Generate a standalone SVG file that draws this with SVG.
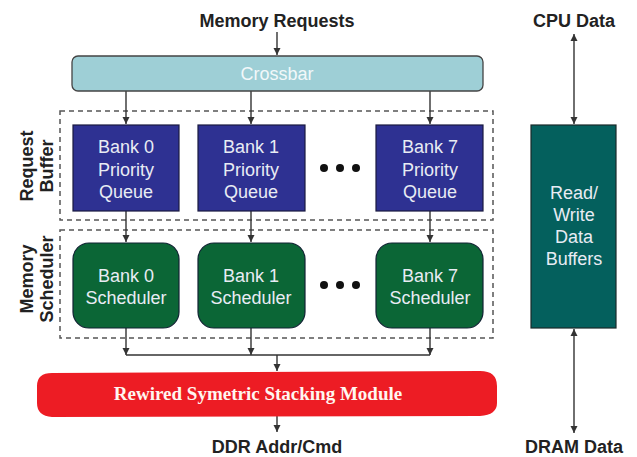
<svg xmlns="http://www.w3.org/2000/svg" width="637" height="457" viewBox="0 0 637 457">
<defs>
<marker id="ah" markerWidth="8" markerHeight="8" refX="7" refY="4" orient="auto" markerUnits="userSpaceOnUse">
<path d="M0,0.5 L7,4 L0,7.5 Z" fill="#333"/>
</marker>
<marker id="ahs" markerWidth="8" markerHeight="8" refX="7" refY="4" orient="auto-start-reverse" markerUnits="userSpaceOnUse">
<path d="M0,0.5 L7,4 L0,7.5 Z" fill="#333"/>
</marker>
</defs>
<style>
.lbl{font-family:"Liberation Sans",Arial,sans-serif;font-weight:bold;font-size:18px;fill:#222;text-anchor:middle}
.wt{font-family:"Liberation Sans",Arial,sans-serif;font-size:18px;fill:#e8ecf4;text-anchor:middle}
.pq{fill:#2e3192;stroke:#1a1a40;stroke-width:1.2}
.sc{fill:#0b6636;stroke:#123;stroke-width:1.2}
.dash{fill:none;stroke:#555;stroke-width:1.5;stroke-dasharray:5,4}
.ln{stroke:#333;stroke-width:1.4;fill:none}
.dot{fill:#111}
</style>
<rect width="637" height="457" fill="#fff"/>

<g id="dashed-boxes">
<rect class="dash" x="60" y="111" width="433" height="109"/>
<rect class="dash" x="60" y="230" width="433" height="108"/>
</g>

<g id="labels">
<text class="lbl" x="277" y="27">Memory Requests</text>
<text class="lbl" x="574" y="27">CPU Data</text>
<text class="lbl" x="277" y="453">DDR Addr/Cmd</text>
<text class="lbl" x="574" y="453">DRAM Data</text>
<text class="lbl" transform="translate(33,166) rotate(-90)">Request</text>
<text class="lbl" transform="translate(53,166) rotate(-90)">Buffer</text>
<text class="lbl" transform="translate(33,279) rotate(-90)">Memory</text>
<text class="lbl" transform="translate(53,279) rotate(-90)">Scheduler</text>
</g>

<g id="connectors">
<line class="ln" x1="277" y1="32" x2="277" y2="55" marker-end="url(#ah)"/>
<line class="ln" x1="126" y1="91" x2="126" y2="124" marker-end="url(#ah)"/>
<line class="ln" x1="251" y1="91" x2="251" y2="124" marker-end="url(#ah)"/>
<line class="ln" x1="430" y1="91" x2="430" y2="124" marker-end="url(#ah)"/>
<line class="ln" x1="126" y1="211" x2="126" y2="242" marker-end="url(#ah)"/>
<line class="ln" x1="251" y1="211" x2="251" y2="242" marker-end="url(#ah)"/>
<line class="ln" x1="430" y1="211" x2="430" y2="242" marker-end="url(#ah)"/>
<line class="ln" x1="126" y1="328" x2="126" y2="355" marker-end="url(#ah)"/>
<line class="ln" x1="251" y1="328" x2="251" y2="355" marker-end="url(#ah)"/>
<line class="ln" x1="430" y1="328" x2="430" y2="355" marker-end="url(#ah)"/>
<line class="ln" x1="126" y1="355" x2="430" y2="355"/>
<line class="ln" x1="277" y1="355" x2="277" y2="371" marker-end="url(#ah)"/>
<line class="ln" x1="277" y1="416" x2="277" y2="432" marker-end="url(#ah)"/>
<line class="ln" x1="574" y1="34" x2="574" y2="124" marker-start="url(#ahs)" marker-end="url(#ah)"/>
<line class="ln" x1="574" y1="329" x2="574" y2="433" marker-start="url(#ahs)" marker-end="url(#ah)"/>
</g>

<g id="crossbar">
<rect x="72" y="56" width="411" height="35" rx="6" fill="#9ecfd6" stroke="#444" stroke-width="1.3"/>
<text class="wt" x="277" y="80" style="fill:#f2f8fa">Crossbar</text>
</g>

<g id="pq0">
<rect class="pq" x="73" y="125" width="106" height="86"/>
<text class="wt" x="126" y="153">Bank 0</text>
<text class="wt" x="126" y="175.5">Priority</text>
<text class="wt" x="126" y="198">Queue</text>
</g>
<g id="pq1">
<rect class="pq" x="198" y="125" width="107" height="86"/>
<text class="wt" x="251" y="153">Bank 1</text>
<text class="wt" x="251" y="175.5">Priority</text>
<text class="wt" x="251" y="198">Queue</text>
</g>
<g id="pq-dots">
<circle class="dot" cx="324" cy="168" r="4"/>
<circle class="dot" cx="340" cy="168" r="4"/>
<circle class="dot" cx="356" cy="168" r="4"/>
</g>
<g id="pq7">
<rect class="pq" x="376" y="125" width="107" height="86"/>
<text class="wt" x="430" y="153">Bank 7</text>
<text class="wt" x="430" y="175.5">Priority</text>
<text class="wt" x="430" y="198">Queue</text>
</g>

<g id="sch0">
<rect class="sc" x="73" y="243" width="106" height="85" rx="16"/>
<text class="wt" x="126" y="282">Bank 0</text>
<text class="wt" x="126" y="304">Scheduler</text>
</g>
<g id="sch1">
<rect class="sc" x="198" y="243" width="107" height="85" rx="16"/>
<text class="wt" x="251" y="282">Bank 1</text>
<text class="wt" x="251" y="304">Scheduler</text>
</g>
<g id="sch-dots">
<circle class="dot" cx="324" cy="285" r="4"/>
<circle class="dot" cx="340" cy="285" r="4"/>
<circle class="dot" cx="356" cy="285" r="4"/>
</g>
<g id="sch7">
<rect class="sc" x="376" y="243" width="107" height="85" rx="16"/>
<text class="wt" x="430" y="282">Bank 7</text>
<text class="wt" x="430" y="304">Scheduler</text>
</g>

<g id="rw-buffers">
<rect x="531" y="125" width="85" height="203" fill="#04605d" stroke="#1a2a2a" stroke-width="1.2"/>
<text class="wt" x="574" y="199">Read/</text>
<text class="wt" x="574" y="221">Write</text>
<text class="wt" x="574" y="243">Data</text>
<text class="wt" x="574" y="265">Buffers</text>
</g>

<g id="stacking-module">
<path d="M52,373 L480,371 Q497,371 497,386 L497,403 Q497,415 480,416 L52,417 Q37,416 37,403 L37,386 Q37,373 52,373 Z" fill="#ed1c24"/>
<text x="258" y="400" text-anchor="middle" font-family="'Liberation Serif','Times New Roman',serif" font-weight="bold" font-size="19" fill="#fff6f0">Rewired Symetric Stacking Module</text>
</g>
</svg>
